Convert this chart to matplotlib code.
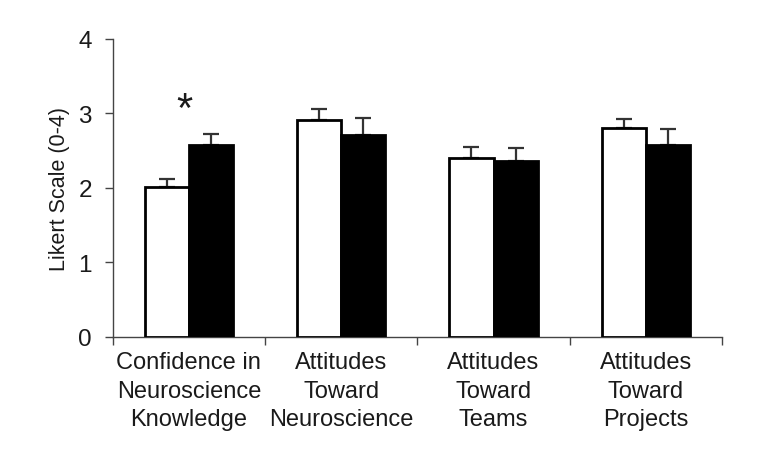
import matplotlib
matplotlib.use("Agg")
import matplotlib.pyplot as plt
import numpy as np

plt.rcParams['font.family'] = ['Liberation Sans', 'DejaVu Sans']

categories = ["Confidence in\nNeuroscience\nKnowledge",
              "Attitudes\nToward\nNeuroscience",
              "Attitudes\nToward\nTeams",
              "Attitudes\nToward\nProjects"]
pre_values = [2.01, 2.91, 2.40, 2.81]
pre_errors = [0.11, 0.15, 0.15, 0.12]
post_values = [2.58, 2.71, 2.36, 2.58]
post_errors = [0.14, 0.23, 0.18, 0.21]
y_ticks = [0, 1, 2, 3, 4]
ylabel = "Likert Scale (0-4)"
sig_marker = "*"
sig_index = 0
sig_y = 3.05

fig = plt.figure(figsize=(7.62, 4.64), dpi=100)
ax = fig.add_axes([0.148, 0.2716, 0.7995, 0.6422])

x = np.arange(len(categories))
w = 0.29
tc = '#1a1a1a'
ax.bar(x - w/2, pre_values, w, color='white', edgecolor='black', linewidth=2.0, zorder=3)
ax.bar(x + w/2, post_values, w, color='black', edgecolor='black', linewidth=2.0, zorder=3)
ax.errorbar(x - w/2, pre_values, yerr=[np.zeros(4), pre_errors], fmt='none',
            ecolor='#333333', elinewidth=1.6, capsize=6, capthick=1.6, zorder=2)
ax.errorbar(x + w/2, post_values, yerr=[np.zeros(4), post_errors], fmt='none',
            ecolor='#333333', elinewidth=1.6, capsize=6, capthick=1.6, zorder=2)

ax.set_xlim(-0.5, len(categories) - 0.5)
ax.set_ylim(0, 4)
ax.set_yticks(y_ticks)
ax.set_yticklabels([str(t) for t in y_ticks], fontsize=17.5, color=tc)
ax.set_xticks(np.arange(len(categories) + 1) - 0.5)
ax.set_xticklabels([])
ax.set_xticks(x, minor=True)
ax.set_xticklabels(categories, minor=True, fontsize=17, color=tc, linespacing=1.4)
ax.tick_params(axis='x', which='minor', length=0, pad=10)
ax.tick_params(axis='x', which='major', length=6, width=1.0, direction='out', color='#444444')
ax.tick_params(axis='y', length=6, width=1.0, direction='out', color='#444444', pad=9)
for s in ['top', 'right']:
    ax.spines[s].set_visible(False)
for s in ['left', 'bottom']:
    ax.spines[s].set_linewidth(1.0)
    ax.spines[s].set_color('#444444')
ax.set_ylabel(ylabel, fontsize=15.5, color=tc, labelpad=6)

ax.text(x[sig_index] - 0.03, sig_y, sig_marker, fontsize=30, ha='center', va='center', color=tc)

fig.savefig("out.png", dpi=100)
